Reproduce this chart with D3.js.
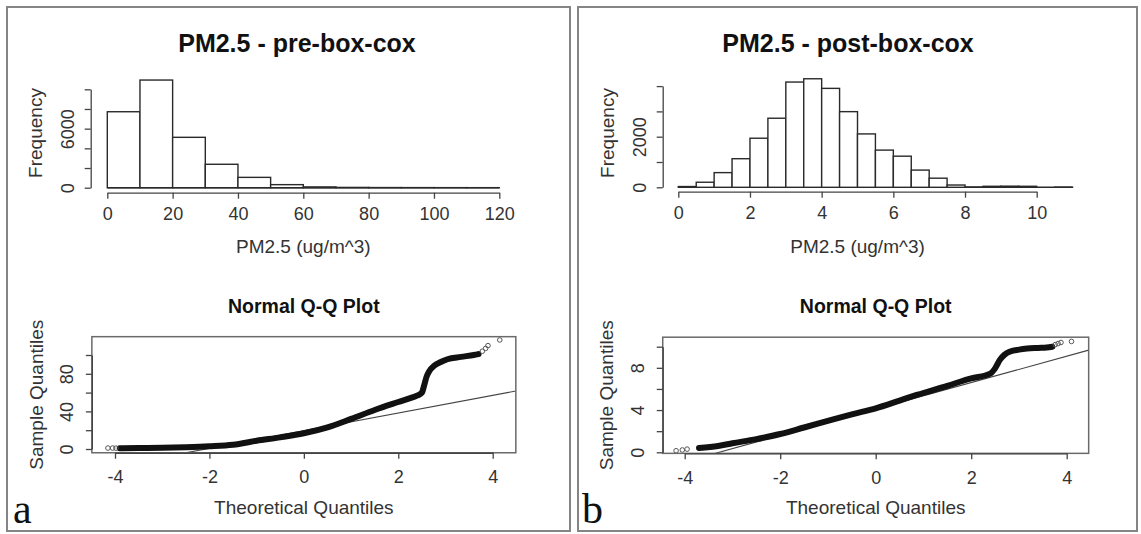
<!DOCTYPE html>
<html>
<head>
<meta charset="utf-8">
<script src="https://cdn.jsdelivr.net/npm/d3@7"></script>
<style>
  body { margin: 0; background: #fff; }
  text { font-family: "Liberation Sans", Arial, sans-serif; }
</style>
</head>
<body>
<svg id="fig" width="1141" height="534"></svg>
<script>

// ---- histogram data (bin edges + counts)
const preBreaks = [0, 10, 20, 30, 40, 50, 60, 70, 80, 90, 100, 110, 120]
const preCounts = [7720, 10940, 5120, 2380, 1050, 310, 80, 30, 15, 10, 6, 3]
const preXTicks = [0, 20, 40, 60, 80, 100, 120]
const preYTicks = [0, 2000, 4000, 6000, 8000, 10000]
const preYLabels = [0, 6000]

const postBreaks = [0, 0.5, 1, 1.5, 2, 2.5, 3, 3.5, 4, 4.5, 5, 5.5, 6, 6.5, 7, 7.5, 8, 8.5, 9, 9.5, 10, 10.5, 11]
const postCounts = [30, 200, 580, 1130, 1940, 2730, 4160, 4290, 3910, 2990, 2110, 1470, 1230, 680, 360, 90, 10, 40, 45, 40, 0, 5]
const postXTicks = [0, 2, 4, 6, 8, 10]
const postYTicks = [0, 1000, 2000, 3000, 4000]
const postYLabels = [0, 2000]

// ---- normal q-q data (dense run drawn as a thick trace, sparse ends as circles)
const qqXTicks = [-4, -2, 0, 2, 4]

const preQQTheo   = [-3.9, -3.5, -3.0, -2.5, -2.0, -1.5, -1.0, -0.5, 0, 0.5, 1.0, 1.5, 2.0, 2.3, 2.41, 2.5, 2.55, 2.6, 2.66, 2.76, 2.9, 3.04, 3.33, 3.6, 3.7]
const preQQSample = [0.8, 1.0, 1.2, 1.8, 2.8, 4.5, 8.8, 12.4, 16.7, 23, 32, 41.5, 50, 55, 57, 60, 68, 77, 83, 88.5, 92.5, 95.5, 98, 100, 101]
const preQQOutTheo   = [-4.15, -4.05, -3.98, 3.78, 3.85, 3.9, 4.15]
const preQQOutSample = [1.0, 1.0, 0.9, 104, 107, 110, 116]
const preQQLine = [19.5, 9.4]   // intercept, slope
const preQQYTicks = [0, 20, 40, 60, 80, 100]
const preQQYLabels = [0, 40, 80]

const postQQTheo   = [-3.7, -3.3, -3.0, -2.5, -2.0, -1.5, -0.89, -0.5, 0, 0.5, 0.86, 1.5, 2.0, 2.4, 2.5, 2.6, 2.7, 2.82, 3.0, 3.17, 3.4, 3.58, 3.7]
const postQQSample = [0.4, 0.6, 0.85, 1.25, 1.73, 2.35, 3.12, 3.6, 4.17, 4.9, 5.43, 6.3, 7.0, 7.45, 7.95, 8.75, 9.25, 9.55, 9.72, 9.82, 9.88, 9.92, 10.0]
const postQQOutTheo   = [-4.18, -4.05, -3.95, 3.76, 3.82, 3.88, 4.1]
const postQQOutSample = [0.15, 0.22, 0.3, 10.2, 10.3, 10.4, 10.5]
const postQQLine = [4.1, 1.25]
const postQQYTicks = [0, 2, 4, 6, 8, 10]
const postQQYLabels = [0, 4, 8]


const svg = d3.select("#fig")
const axisCol = "#444", textCol = "#333"

// panel frames
svg.selectAll(".frame").data([[7, 570], [578, 1137]]).join("rect")
  .attr("class", "frame")
  .attr("x", d => d[0]).attr("y", 7)
  .attr("width", d => d[1] - d[0]).attr("height", 524)
  .attr("fill", "none").attr("stroke", "#858585").attr("stroke-width", 2)

function styleAxis(g) {
  g.attr("font-family", null).attr("font-size", null)
  g.selectAll("path, line").attr("stroke", axisCol).attr("stroke-width", 1.3)
  g.selectAll("text").attr("fill", textCol).style("font-size", "18px")
}

// x axis: labels under ticks
function xAxis(x, ticks, yPos, labelOff) {
  const g = svg.append("g").attr("transform", `translate(0,${yPos})`)
    .call(d3.axisBottom(x).tickValues(ticks).tickSize(6).tickSizeOuter(0))
  styleAxis(g)
  g.selectAll(".tick text").attr("y", labelOff).attr("dy", "0.35em")
    .text(d => d < 0 ? "-" + Math.abs(d) : d)
}

// y axis: R style, labels rotated parallel to the axis
function yAxis(y, ticks, labels, xPos, labelOff) {
  const g = svg.append("g").attr("transform", `translate(${xPos},0)`)
    .call(d3.axisLeft(y).tickValues(ticks).tickSize(6).tickSizeOuter(0))
  styleAxis(g)
  g.selectAll(".tick text")
    .attr("transform", "rotate(-90)")
    .attr("x", 0).attr("y", -labelOff).attr("dy", "0.35em")
    .attr("text-anchor", "middle")
    .text(d => labels.includes(d) ? d : "")
}

function label(txt, x, y, size, bold, rot) {
  svg.append("text")
    .attr("transform", `translate(${x},${y})` + (rot ? " rotate(-90)" : ""))
    .attr("text-anchor", "middle").attr("dy", "0.35em")
    .attr("fill", bold ? "#111" : textCol)
    .attr("font-weight", bold ? "bold" : "normal")
    .style("font-size", size + "px")
    .text(txt)
}

function histPanel(o) {
  const x = d3.scaleLinear().domain([o.xTicks[0], o.xTicks[o.xTicks.length - 1]]).range(o.xRange)
  const y = d3.scaleLinear().domain([0, o.yTicks[o.yTicks.length - 1]]).range(o.yRange)
  const bins = o.counts.map((c, i) => ({ x0: o.breaks[i], x1: o.breaks[i + 1], n: c }))

  // empty bins still show as a flat line on zero
  svg.append("line")
    .attr("x1", x(o.breaks[0])).attr("x2", x(o.breaks[o.breaks.length - 1]))
    .attr("y1", y(0)).attr("y2", y(0))
    .attr("stroke", "#2a2a2a").attr("stroke-width", 1.4)

  svg.append("g").selectAll("rect").data(bins).join("rect")
    .attr("x", d => x(d.x0)).attr("width", d => x(d.x1) - x(d.x0))
    .attr("y", d => y(d.n)).attr("height", d => y(0) - y(d.n))
    .attr("fill", "#fff").attr("stroke", "#2a2a2a").attr("stroke-width", 1.4)

  xAxis(x, o.xTicks, o.xAxisY, 21.5)
  yAxis(y, o.yTicks, o.yLabels, o.yAxisX, 23.5)

  label(o.title, o.titleX, 43, 25, true)
  label("PM2.5 (ug/m^3)", (o.xRange[0] + o.xRange[1]) / 2, 246, 19)
  label("Frequency", o.yAxisX - 55, 133, 19, false, true)
}

function qqPanel(o) {
  const x = d3.scaleLinear().domain([-4, 4]).range(o.xRange)
  const y = d3.scaleLinear().domain([0, o.yTicks[o.yTicks.length - 1]]).range(o.yRange)
  const bx0 = x(o.xLim[0]), bx1 = x(o.xLim[1]), by0 = y(o.yLim[0]), by1 = y(o.yLim[1])

  const clipId = "clip" + o.id
  svg.append("clipPath").attr("id", clipId).append("rect")
    .attr("x", bx0).attr("y", by1).attr("width", bx1 - bx0).attr("height", by0 - by1)

  // reference line
  const lx = [o.xLim[0], o.xLim[1]]
  svg.append("line").attr("clip-path", `url(#${clipId})`)
    .attr("x1", x(lx[0])).attr("y1", y(o.line[0] + o.line[1] * lx[0]))
    .attr("x2", x(lx[1])).attr("y2", y(o.line[0] + o.line[1] * lx[1]))
    .attr("stroke", "#444").attr("stroke-width", 1.1)

  // dense run of points
  const pts = o.theo.map((t, i) => [t, o.sample[i]])
  svg.append("path").datum(pts)
    .attr("d", d3.line().x(d => x(d[0])).y(d => y(d[1])).curve(d3.curveMonotoneX))
    .attr("fill", "none").attr("stroke", "#111").attr("stroke-width", 6)
    .attr("stroke-linecap", "round").attr("stroke-linejoin", "round")

  // sparse ends
  const outs = o.outTheo.map((t, i) => [t, o.outSample[i]])
  svg.append("g").selectAll("circle").data(outs).join("circle")
    .attr("cx", d => x(d[0])).attr("cy", d => y(d[1])).attr("r", 2.3)
    .attr("fill", "none").attr("stroke", "#555").attr("stroke-width", 1)

  svg.append("rect").attr("x", bx0).attr("y", by1)
    .attr("width", bx1 - bx0).attr("height", by0 - by1)
    .attr("fill", "none").attr("stroke", "#6a6a6a").attr("stroke-width", 1.5)

  xAxis(x, qqXTicks, by0, 24)
  yAxis(y, o.yTicks, o.yLabels, bx0, 25)

  const cx = (bx0 + bx1) / 2
  label("Normal Q-Q Plot", cx, 306.5, 19.5, true)
  label("Theoretical Quantiles", cx, 507.5, 19)
  label("Sample Quantiles", bx0 - 56, (by0 + by1) / 2, 19, false, true)
}

histPanel({
  breaks: preBreaks, counts: preCounts, xTicks: preXTicks, yTicks: preYTicks, yLabels: preYLabels,
  xRange: [107.3, 499.3], yRange: [187.7, 89.3], xAxisY: 192.7, yAxisX: 90.7,
  title: "PM2.5 - pre-box-cox", titleX: 297
})
histPanel({
  breaks: postBreaks, counts: postCounts, xTicks: postXTicks, yTicks: postYTicks, yLabels: postYLabels,
  xRange: [678.3, 1036.7], yRange: [187.3, 86.1], xAxisY: 191.7, yAxisX: 662.7,
  title: "PM2.5 - post-box-cox", titleX: 848
})

qqPanel({
  id: "a", theo: preQQTheo, sample: preQQSample, outTheo: preQQOutTheo, outSample: preQQOutSample,
  line: preQQLine, yTicks: preQQYTicks, yLabels: preQQYLabels,
  xRange: [115, 492.7], yRange: [449, 355], xLim: [-4.49, 4.49], yLim: [-4, 119.5]
})
qqPanel({
  id: "b", theo: postQQTheo, sample: postQQSample, outTheo: postQQOutTheo, outSample: postQQOutSample,
  line: postQQLine, yTicks: postQQYTicks, yLabels: postQQYLabels,
  xRange: [684.7, 1066.7], yRange: [452.3, 346.7], xLim: [-4.46, 4.46], yLim: [-0.1, 10.9]
})

// panel letters
svg.selectAll(".letter").data([["a", 13], ["b", 582]]).join("text")
  .attr("class", "letter")
  .attr("x", d => d[1]).attr("y", 523)
  .style("font-family", "'Liberation Serif', 'Times New Roman', serif")
  .style("font-size", "42px").attr("fill", "#111")
  .text(d => d[0])

</script>
</body>
</html>
